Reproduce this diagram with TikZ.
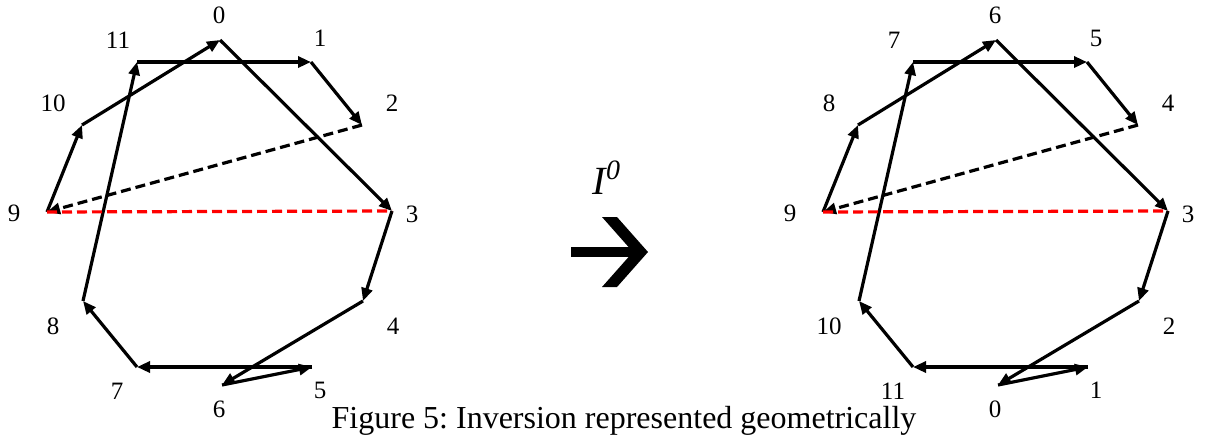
\documentclass[tikz,border=0pt]{standalone}
\usepackage{fontspec}
\setmainfont{Liberation Serif}
\usetikzlibrary{arrows.meta}
\frenchspacing

\begin{document}
\begin{tikzpicture}[x=0.5pt, y=-0.5pt,
    edge/.style={line width=1.6pt, -{Triangle[length=6.5pt,width=5.5pt]}},
    backedge/.style={edge, dash pattern=on 5pt off 2.5pt},
    axis/.style={red, line width=1.6pt, dash pattern=on 5pt off 2.5pt},
    lbl/.style={font=\fontsize{12.5}{14}\selectfont, inner sep=0pt}]
    \useasboundingbox (0,0) rectangle (1209,436);

    % Draw both pitch-class circles
    \foreach \s/\dx/\off/\sgn in {a/0/0/1, b/776/6/-1} {
        % Place points and labels
        \foreach \k/\px/\py/\lx/\ly in {0/220/40/219/15, 1/311/62/320/38,
            2/362/125/392/103, 3/392/211/412/214, 4/363/301/393/326,
            5/312/367/320/390, 6/222/385/219/409, 7/137/367/117/391,
            8/83/301/53/326, 9/47/212/14/213, 10/82/125/53/103,
            11/137/62/118/40} {
            \pgfmathtruncatemacro{\lab}{mod(\off+\sgn*\k+12,12)}
            \coordinate (\s\k) at (\px+\dx,\py);
            \node[lbl] (lab\s\k) at (\lx+\dx,\ly) {\lab};
        }
        % Draw the path
        \draw[edge] (\s0) -- (\s3);
        \draw[edge] (\s3) -- (\s4);
        \draw[edge] (\s4) -- (\s6);
        \draw[edge] (\s6) -- (\s5);
        \draw[edge] (\s5) -- (\s7);
        \draw[edge] (\s7) -- (\s8);
        \draw[edge] (\s8) -- (\s11);
        \draw[edge] (\s11) -- (\s1);
        \draw[edge] (\s1) -- (\s2);
        \draw[backedge] (\s2) -- (\s9);
        \draw[edge] (\s9) -- (\s10);
        \draw[edge] (\s10) -- (\s0);
        % Inversion axis
        \draw[axis] (\s9) -- (\s3);
    }

    % Draw transformation arrow
    \node[font=\fontsize{20}{24}\selectfont\itshape] (op) at (607,178) {I\textsuperscript{0}};
    \fill (571,247) rectangle (636,257);
    \fill (602,217) -- (617,217) -- (648,252) -- (617,287) -- (602,287) -- (633,252) -- cycle;

    % Add caption
    \node[font=\fontsize{16}{18}\selectfont, anchor=base] (caption) at (624,428)
        {Figure 5: Inversion represented geometrically};
\end{tikzpicture}
\end{document}
